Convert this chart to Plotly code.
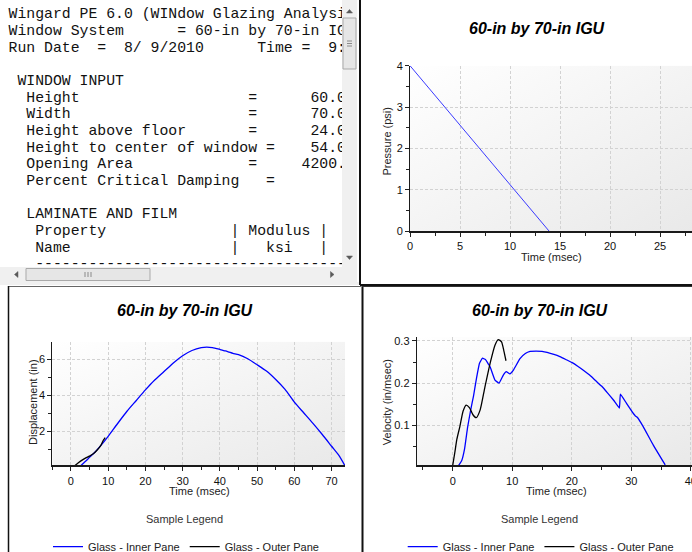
import base64
import plotly.graph_objects as go

W, H = 692, 552

# ---------------- data ----------------
chart_title = "60-in by 70-in IGU"

pressure_time = [0.0, 13.9]
pressure_psi = [4.0, 0.0]

disp_inner_t = [2.7, 3.5, 5.0, 6.5, 8.0, 10.0, 12.5, 15.0, 17.5, 20.0, 22.5, 25.0, 27.5, 30.0,
                32.5, 35.0, 36.5, 38.0, 40.0, 41.5, 42.5, 43.5, 45.0, 47.5, 50.0, 52.5, 55.0,
                57.5, 60.0, 62.5, 65.0, 67.5, 70.0, 72.0, 73.5]
disp_inner_d = [0.1, 0.25, 0.55, 0.85, 1.2, 1.72, 2.42, 3.1, 3.7, 4.3, 4.85, 5.32, 5.8, 6.2,
                6.49, 6.65, 6.68, 6.65, 6.55, 6.47, 6.4, 6.33, 6.26, 6.03, 5.7, 5.35, 4.88,
                4.33, 3.62, 3.03, 2.44, 1.82, 1.17, 0.65, 0.12]

disp_outer_t = [1.1, 2.0, 3.0, 4.0, 5.0, 6.0, 7.0, 8.0, 8.7, 9.2]
disp_outer_d = [0.1, 0.25, 0.4, 0.52, 0.62, 0.75, 0.95, 1.2, 1.5, 1.65]

vel_inner_t = [1.0, 1.5, 2.0, 2.5, 3.0, 3.5, 4.0, 4.5, 5.0, 5.5, 6.0, 6.3, 7.1, 7.8, 8.5, 9.0,
               9.6, 10.2, 11.3, 12.2, 13.0, 14.0, 15.0, 17.0, 18.0, 19.0, 20.0, 21.0, 22.0,
               23.0, 24.0, 25.0, 26.0, 27.0, 28.0, 28.17, 29.2, 30.35, 30.7, 31.0, 32.0, 33.7,
               35.7]
vel_inner_v = [0.005, 0.016, 0.045, 0.095, 0.135, 0.17, 0.212, 0.247, 0.259, 0.256, 0.245,
               0.238, 0.207, 0.2, 0.219, 0.227, 0.222, 0.231, 0.258, 0.27, 0.275, 0.276, 0.275,
               0.268, 0.263, 0.256, 0.249, 0.24, 0.23, 0.219, 0.206, 0.193, 0.177, 0.16, 0.141,
               0.174, 0.152, 0.128, 0.122, 0.119, 0.097, 0.053, 0.006]

vel_outer_t = [0.0, 0.35, 0.7, 1.2, 1.75, 2.25, 2.8, 3.4, 3.95, 4.6, 5.4, 6.3, 7.1, 7.65, 8.2,
               8.6, 8.95]
vel_outer_v = [0.005, 0.035, 0.067, 0.097, 0.134, 0.148, 0.142, 0.125, 0.118, 0.136, 0.19,
               0.248, 0.29, 0.303, 0.298, 0.276, 0.253]

series_names = ["Glass - Inner Pane", "Glass - Outer Pane"]

report_lines = [
    "Wingard PE 6.0 (WINdow Glazing Analysis Response & Design)",
    "Window System      = 60-in by 70-in IGU",
    "Run Date  =  8/ 9/2010      Time =  9:41:22",
    "",
    " WINDOW INPUT",
    "  Height                   =      60.000",
    "  Width                    =      70.000",
    "  Height above floor       =      24.000",
    "  Height to center of window =    54.000",
    "  Opening Area             =     4200.000",
    "  Percent Critical Damping   =         2.000",
    "",
    "  LAMINATE AND FILM",
    "   Property              | Modulus |",
    "   Name                  |   ksi   |",
    "   ----------------------------------------------",
]

# ---------------- helpers ----------------
def PX(x):
    return x / W

def PY(y):
    return 1 - y / H

SANS = "Liberation Sans, Arial, sans-serif"
fig = go.Figure()

# report text (clipped by its own subplot)
fig.add_trace(go.Scatter(
    x=[0] * len(report_lines), y=list(range(len(report_lines))),
    mode="text", text=[s.replace(" ", "\u00a0") for s in report_lines],
    textposition="middle right",
    textfont=dict(family="Liberation Mono, Courier New, monospace", size=14.8, color="#111111"),
    xaxis="x4", yaxis="y4", hoverinfo="skip", showlegend=False, cliponaxis=True))

# pressure
fig.add_trace(go.Scatter(x=pressure_time, y=pressure_psi, mode="lines",
                         line=dict(color="#3a3aff", width=1), xaxis="x", yaxis="y",
                         showlegend=False, hoverinfo="skip"))
# displacement
fig.add_trace(go.Scatter(x=disp_inner_t, y=disp_inner_d, mode="lines", name=series_names[0],
                         line=dict(color="#0000ff", width=1.3, shape="spline", smoothing=0.6),
                         xaxis="x2", yaxis="y2", legend="legend"))
fig.add_trace(go.Scatter(x=disp_outer_t, y=disp_outer_d, mode="lines", name=series_names[1],
                         line=dict(color="#000000", width=1.3, shape="spline", smoothing=0.6),
                         xaxis="x2", yaxis="y2", legend="legend"))
# velocity
fig.add_trace(go.Scatter(x=vel_inner_t, y=vel_inner_v, mode="lines", name=series_names[0],
                         line=dict(color="#0000ff", width=1.3, shape="spline", smoothing=0.3),
                         xaxis="x3", yaxis="y3", legend="legend2"))
fig.add_trace(go.Scatter(x=vel_outer_t, y=vel_outer_v, mode="lines", name=series_names[1],
                         line=dict(color="#000000", width=1.3, shape="spline", smoothing=0.6),
                         xaxis="x3", yaxis="y3", legend="legend2"))

tickfont = dict(family=SANS, size=11, color="#111111")
grid = dict(showgrid=True, gridcolor="#d2d2d2", griddash="3px,2px", gridwidth=1)

def xax(domain, rng, dtick, mdtick, anchor):
    return dict(domain=domain, range=rng, autorange=False, tick0=0, dtick=dtick,
                ticks="outside", ticklen=4, tickcolor="#222222", tickwidth=1,
                minor=dict(dtick=mdtick, tick0=0, ticks="outside", ticklen=3,
                           tickcolor="#222222", showgrid=False),
                showline=True, linecolor="#1a1a1a", linewidth=2, zeroline=False,
                tickfont=tickfont, anchor=anchor, fixedrange=True,
                ticklabeloverflow="allow", **grid)

def yax(domain, rng, dtick, mdtick, anchor):
    return dict(domain=domain, range=rng, autorange=False, tick0=0, dtick=dtick,
                ticks="outside", ticklen=4, tickcolor="#222222", tickwidth=1,
                minor=dict(dtick=mdtick, tick0=0, ticks="outside", ticklen=3,
                           tickcolor="#222222", showgrid=False),
                showline=True, linecolor="#1a1a1a", linewidth=1, zeroline=False,
                tickfont=tickfont, anchor=anchor, fixedrange=True, **grid)

# plot areas in px: (left, top, right, bottom)
P_pres = (410, 65.7, 692, 231)
P_disp = (52.3, 341.7, 345, 465.3)
P_vel = (416.7, 336.7, 692, 465.3)

def dom(p):
    return [PX(p[0]), min(1, PX(p[2]))], [PY(p[3]), PY(p[1])]

dx1, dy1 = dom(P_pres)
dx2, dy2 = dom(P_disp)
dx3, dy3 = dom(P_vel)

fig.update_layout(
    xaxis=xax(dx1, [0, 28.2], 5, 2.5, "y"),
    yaxis=yax(dy1, [0, 4], 1, 0.5, "x"),
    xaxis2=xax(dx2, [-5, 73.6], 10, 5, "y2"),
    yaxis2=yax(dy2, [0.11, 6.98], 2, 1, "x2"),
    xaxis3=xax(dx3, [-6.05, 40.2], 10, 5, "y3"),
    yaxis3=yax(dy3, [0.0052, 0.31], 0.1, 0.05, "x3"),
    xaxis4=dict(domain=[0, PX(342)], range=[-8.5 / 8.9, (342 - 8.5) / 8.9], visible=False,
                fixedrange=True, anchor="y4"),
    yaxis4=dict(domain=[PY(267), 1], range=[(267 - 14.6) / 16.67, -14.6 / 16.67],
                visible=False, fixedrange=True, anchor="x4"),
)

# gradient plot backgrounds
svg = ('<svg xmlns="http://www.w3.org/2000/svg" viewBox="0 0 10 10" preserveAspectRatio="none">'
       '<defs><linearGradient id="g" x1="0" y1="0" x2="1" y2="1">'
       '<stop offset="0" stop-color="#ffffff"/><stop offset="1" stop-color="#e9e9e9"/>'
       '</linearGradient></defs><rect width="10" height="10" fill="url(#g)"/></svg>')
src = "data:image/svg+xml;base64," + base64.b64encode(svg.encode()).decode()
images = []
for p in (P_pres, P_disp, P_vel):
    images.append(dict(source=src, xref="paper", yref="paper", x=PX(p[0]), y=PY(p[1]),
                       sizex=PX(p[2]) - PX(p[0]), sizey=PY(p[1]) - PY(p[3]),
                       xanchor="left", yanchor="top", sizing="stretch", layer="below"))

shapes = []

def rect(x0, y0, x1, y1, fill, line=None, lw=0):
    shapes.append(dict(type="rect", xref="paper", yref="paper", x0=PX(x0), x1=PX(x1),
                       y0=PY(y1), y1=PY(y0), fillcolor=fill,
                       line=dict(color=line or fill, width=lw), layer="above"))

def seg(x0, y0, x1, y1, color, width):
    shapes.append(dict(type="line", xref="paper", yref="paper", x0=PX(x0), x1=PX(x1),
                       y0=PY(y0), y1=PY(y1), line=dict(color=color, width=width), layer="above"))

def tri(pts, color="#5a5a5a"):
    d = "M " + " L ".join("%.5f,%.5f" % (PX(a), PY(b)) for a, b in pts) + " Z"
    shapes.append(dict(type="path", xref="paper", yref="paper", path=d, fillcolor=color,
                       line=dict(color=color, width=0.5), layer="above"))

# scrollbars of the text box
rect(342, 0, 357, 267, "#f0f0f0")
rect(0, 267, 342, 282, "#f0f0f0")
rect(342, 267, 357, 282, "#f0f0f0")
rect(0, 282, 360, 285, "#f0f0f0")
rect(343, 18, 356, 69, "#e6e6e6", "#a9a9a9", 1)
for yy in (41, 43.5, 46):
    seg(347, yy, 352, yy, "#8a8a8a", 1)
rect(26, 268.5, 150, 280.5, "#e6e6e6", "#a9a9a9", 1)
for xx in (85, 88, 91):
    seg(xx, 272, xx, 277, "#8a8a8a", 1)
tri([(346.5, 13), (349.5, 9.5), (352.5, 13)])
tri([(346.5, 256), (352.5, 256), (349.5, 259.5)])
tri([(18, 271.5), (14.5, 274.5), (18, 277.5)])
tri([(330.5, 271.5), (334, 274.5), (330.5, 277.5)])

# panel borders
seg(360, 0, 360, 285, "#111111", 2)
seg(360, 285, 692, 285, "#111111", 2)
seg(8, 286.5, 361, 286.5, "#666666", 1)
seg(8.5, 286, 8.5, 552, "#111111", 1.5)
seg(362.5, 285, 362.5, 552, "#111111", 2)
seg(362, 286.5, 692, 286.5, "#333333", 1)

annotations = []

def txt(x, y, s, size=11, color="#222222", angle=0, bold=False, italic=False):
    t = s
    if bold:
        t = "<b>" + t + "</b>"
    if italic:
        t = "<i>" + t + "</i>"
    annotations.append(dict(x=PX(x), y=PY(y), xref="paper", yref="paper", text=t,
                            showarrow=False, textangle=angle, xanchor="center", yanchor="middle",
                            borderpad=0,
                            font=dict(family=SANS, size=size, color=color)))

for cx, cy in ((537, 28), (185, 310), (539.5, 310)):
    txt(cx, cy, chart_title, size=16, color="#000000", bold=True, italic=True)

txt(386.5, 141, "Pressure (psi)", angle=-90)
txt(551.5, 257, "Time (msec)")
txt(32.3, 401.7, "Displacement (in)", angle=-90)
txt(199, 491, "Time (msec)")
txt(386.7, 402.5, "Velocity (in/msec)", angle=-90)
txt(556, 491, "Time (msec)")
txt(184.7, 519.3, "Sample Legend", color="#333333")
txt(539.3, 519.3, "Sample Legend", color="#333333")

legend_style = dict(orientation="h", xanchor="left", yanchor="middle", bgcolor="rgba(0,0,0,0)",
                    borderwidth=0, font=dict(family=SANS, size=11, color="#222222"))

fig.update_layout(
    width=W, height=H,
    margin=dict(l=0, r=0, t=0, b=0, pad=0, autoexpand=False),
    paper_bgcolor="#ffffff", plot_bgcolor="rgba(0,0,0,0)",
    images=images, shapes=shapes, annotations=annotations,
    legend=dict(x=PX(48), y=PY(546.7), **legend_style),
    legend2=dict(x=PX(402.7), y=PY(546.7), **legend_style),
    showlegend=True,
)

fig.write_html("out.html", config={"displayModeBar": False},
               post_script="document.body.style.margin='0';document.body.style.overflow='hidden';")
